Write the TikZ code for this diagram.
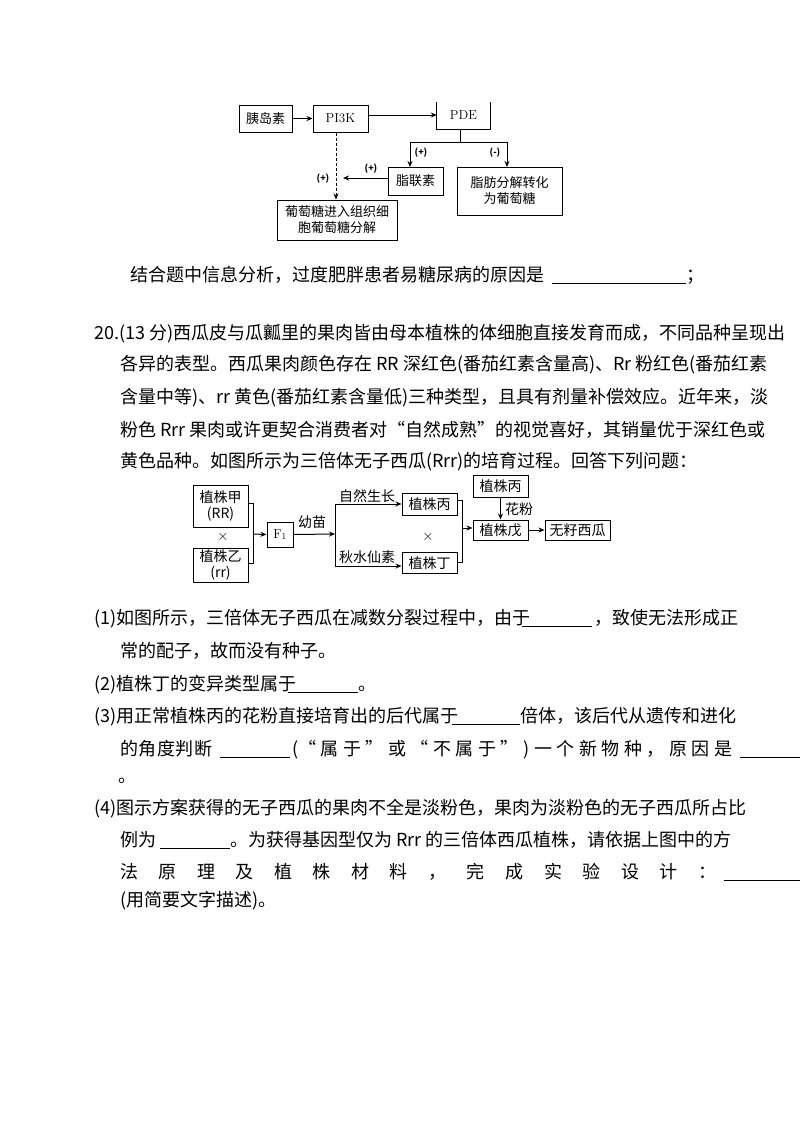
\documentclass[tikz,border=0pt]{standalone}
\usepackage{fontspec}
\newfontfamily\cjk{Noto Sans CJK SC}
\usetikzlibrary{arrows.meta}
\begin{document}
\begin{tikzpicture}[x=1pt,y=-1pt,
  txt/.style={anchor=base west,inner sep=0pt,font=\cjk\fontsize{18}{20}\selectfont},
  bx/.style={draw,line width=1pt,inner sep=0pt,align=center,font=\cjk\fontsize{13}{16}\selectfont},
  lb/.style={inner sep=0pt,font=\cjk\fontsize{13}{16}\selectfont},
  sl/.style={inner sep=0pt,font=\cjk\bfseries\fontsize{9}{10}\selectfont},
  ar/.style={line width=1pt,-{Stealth[length=6pt,width=5pt]}},
  bl/.style={line width=0.9pt}]
\fill[white] (0,0) rectangle (800,1132);
\useasboundingbox (0,0) rectangle (800,1132);
% ---------- diagram 1 ----------
\node[bx,minimum width=53pt,minimum height=27pt] (yd) at (265.5,118.5) {胰岛素};
\node[bx,minimum width=55pt,minimum height=27pt,font=\fontsize{13}{16}\selectfont] (pk) at (340.5,118.5) {PI3K};
\node[inner sep=0pt,minimum width=53pt,minimum height=27pt,font=\fontsize{13}{16}\selectfont] (pde) at (463.5,115.5) {PDE};
\draw[line width=1pt] (pde.north west)--(pde.south west)--(pde.south east)--(pde.north east);
\node[bx,minimum width=55pt,minimum height=28pt] (zl) at (415.5,181) {脂联素};
\node[bx,minimum width=105pt,minimum height=48pt] (zf) at (509.5,191) {脂肪分解转化\\为葡萄糖};
\node[bx,minimum width=120pt,minimum height=40pt] (pt) at (337,220) {葡萄糖进入组织细\\胞葡萄糖分解};
\draw[ar] (yd.east)--(pk.west);
\draw[ar] (pk.east|-0,115)--(pde.west|-0,115);
\coordinate (c1) at (460,142);
\draw[line width=1pt] (pde.south-|c1)--(c1);
\draw[ar] (c1)--(410,142)--(410,167);
\draw[ar] (c1)--(507,142)--(507,167);
\node[sl] at (421,153) {(+)};
\node[sl] at (495,153) {(-)};
\draw[ar,densely dashed] (pk.south-|336,0)--(pt.north-|336,0);
\coordinate (c2) at (343,178);
\draw[ar] (zl.west|-c2)--(c2);
\node[sl] at (371,169) {(+)};
\node[sl] at (323,179) {(+)};
% ---------- text ----------
\node[txt] at (130,281) {结合题中信息分析，过度肥胖患者易糖尿病的原因是};
\draw[bl] (552,283)--(686,283); \node[txt] at (686,281) {；};
\node[txt] at (94,339) {20.(13 分)西瓜皮与瓜瓤里的果肉皆由母本植株的体细胞直接发育而成，不同品种呈现出};
\node[txt] at (120,370) {各异的表型。西瓜果肉颜色存在 RR 深红色(番茄红素含量高)、Rr 粉红色(番茄红素};
\node[txt] at (120,403) {含量中等)、rr 黄色(番茄红素含量低)三种类型，且具有剂量补偿效应。近年来，淡};
\node[txt] at (120,436) {粉色 Rrr 果肉或许更契合消费者对“自然成熟”的视觉喜好，其销量优于深红色或};
\node[txt] at (120,467) {黄色品种。如图所示为三倍体无子西瓜(Rrr)的培育过程。回答下列问题：};
% ---------- diagram 2 ----------
\node[bx,minimum width=55pt,minimum height=42pt,font=\cjk\fontsize{14}{16}\selectfont] (ja) at (220.5,506) {植株甲\\(RR)};
\node[lb,font=\fontsize{15}{16}\selectfont] at (223,537) {$\times$};
\node[bx,minimum width=55pt,minimum height=34pt,font=\cjk\fontsize{14}{16}\selectfont] (yi) at (220.5,565) {植株乙\\(rr)};
\draw[line width=1pt] (ja.east|-0,503)--(253,503)--(253,563)--(yi.east|-0,563);
\node[bx,minimum width=26pt,minimum height=25pt,font=\fontsize{13}{16}\selectfont] (f1) at (280,534.5) {F$_1$};
\draw[ar] (253,534)--(f1.west);
\draw[ar] (f1.east)--(335,534);
\node[lb,font=\cjk\fontsize{14}{16}\selectfont] at (312,522) {幼苗};
\draw[line width=1pt] (335,504)--(335,566);
\node[bx,minimum width=55pt,minimum height=22pt,font=\cjk\fontsize{14}{16}\selectfont] (bing) at (429.5,504) {植株丙};
\node[bx,minimum width=55pt,minimum height=21pt,font=\cjk\fontsize{14}{16}\selectfont] (ding) at (429.5,563) {植株丁};
\draw[ar] (335,504)--(bing.west);
\draw[ar] (335,566)--(ding.west|-0,566);
\node[lb,font=\cjk\fontsize{14}{16}\selectfont] at (367,496) {自然生长};
\node[lb,font=\cjk\fontsize{14}{16}\selectfont] at (367,557) {秋水仙素};
\node[lb,font=\fontsize{15}{16}\selectfont] at (428,537) {$\times$};
\draw[line width=1pt] (bing.east|-0,500)--(462,500)--(462,562)--(ding.east|-0,562);
\node[bx,minimum width=55pt,minimum height=22pt,font=\cjk\fontsize{14}{16}\selectfont] (b2) at (500.5,486) {植株丙};
\node[bx,minimum width=55pt,minimum height=20pt,font=\cjk\fontsize{14}{16}\selectfont] (wu) at (500.5,530) {植株戊};
\node[bx,minimum width=65pt,minimum height=20pt,font=\cjk\fontsize{14}{16}\selectfont] (wz) at (577.5,530) {无籽西瓜};
\draw[ar] (462,528)--(wu.west|-0,528);
\draw[ar] (b2.south)--(wu.north);
\node[lb,font=\cjk\fontsize{14}{16}\selectfont] at (519,509) {花粉};
\draw[ar] (wu.east)--(wz.west);
% ---------- questions ----------
\node[txt] at (94,624) {(1)如图所示，三倍体无子西瓜在减数分裂过程中，由于};
\draw[bl] (522,626)--(592,626); \node[txt] at (594,624) {，致使无法形成正};
\node[txt] at (120,657) {常的配子，故而没有种子。};
\node[txt] at (94,690) {(2)植株丁的变异类型属于};
\draw[bl] (288,692)--(358,692); \node[txt] at (358,690) {。};
\node[txt] at (94,722) {(3)用正常植株丙的花粉直接培育出的后代属于};
\draw[bl] (452,724)--(520,724); \node[txt] at (520,722) {倍体，该后代从遗传和进化};
\node[txt] at (120,755) {\makebox[92pt][s]{的\hfill 角\hfill 度\hfill 判\hfill 断}};
\draw[bl] (220,757)--(290,757);
\node[txt] at (292,755) {\makebox[440pt][s]{(“\hfill 属\hfill 于\hfill ”\hfill 或\hfill “\hfill 不\hfill 属\hfill 于\hfill ”\hfill )\hfill 一\hfill 个\hfill 新\hfill 物\hfill 种\hfill ，\hfill 原\hfill 因\hfill 是}};
\draw[bl] (740,757)--(800,757);
\node[txt] at (118,782) {。};
\node[txt] at (94,814) {(4)图示方案获得的无子西瓜的果肉不全是淡粉色，果肉为淡粉色的无子西瓜所占比};
\node[txt] at (120,846) {例为};
\draw[bl] (160,848)--(230,848);
\node[txt] at (230,846) {。为获得基因型仅为 Rrr 的三倍体西瓜植株，请依据上图中的方};
\node[txt] at (120,878) {\makebox[596pt][s]{法\hfill 原\hfill 理\hfill 及\hfill 植\hfill 株\hfill 材\hfill 料\hfill ，\hfill 完\hfill 成\hfill 实\hfill 验\hfill 设\hfill 计\hfill ：}};
\draw[bl] (724,880)--(800,880);
\node[txt] at (120,906) {(用简要文字描述)。};
\end{tikzpicture}
\end{document}
